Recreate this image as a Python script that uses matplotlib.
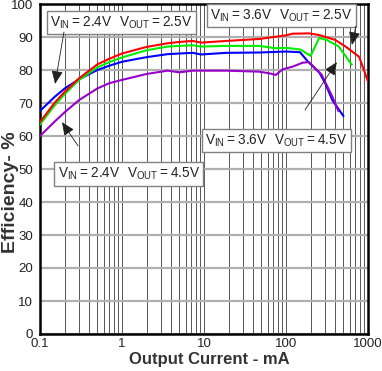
import matplotlib
matplotlib.use("Agg")
import matplotlib.pyplot as plt
from matplotlib.ticker import LogLocator, FixedLocator, FixedFormatter, NullFormatter

plt.rcParams['font.family'] = ['Liberation Sans', 'DejaVu Sans']
plt.rcParams['mathtext.fontset'] = 'custom'
plt.rcParams['mathtext.rm'] = 'Liberation Sans'

# ---- data (output current in mA, efficiency in %) ----
red_i = [0.1, 0.15, 0.2, 0.3, 0.5, 0.7, 1, 2, 3.6, 5, 7.3, 9.2, 18.6, 47, 100, 120, 190, 254, 400, 540, 780, 1000]
red_e = [64.2, 70.0, 73.4, 77.5, 81.7, 83.4, 85.0, 87.0, 88.1, 88.5, 88.8, 88.3, 88.8, 89.4, 90.5, 91.0, 91.1, 90.6, 89.1, 87.0, 84.0, 76.5]

green_i = [0.1, 0.15, 0.2, 0.3, 0.5, 0.7, 1, 2, 3.6, 5, 7.3, 9.2, 18.6, 47, 75, 100, 120, 150, 200, 254, 316, 440, 630]
green_e = [63.5, 69.2, 72.7, 77.0, 80.8, 82.4, 83.8, 86.0, 87.1, 87.3, 87.5, 87.1, 87.3, 87.3, 86.6, 86.7, 86.5, 86.2, 84.3, 89.7, 89.1, 87.1, 81.7]

blue_i = [0.1, 0.15, 0.2, 0.3, 0.5, 0.7, 1, 2, 3.6, 5, 7.3, 9.2, 18.6, 47, 100, 148, 186, 254, 300, 369, 500]
blue_e = [67.6, 71.8, 74.4, 77.2, 80.0, 81.3, 82.5, 83.9, 84.8, 85.0, 85.2, 84.7, 85.2, 85.3, 85.6, 85.4, 82.5, 79.3, 76.0, 70.8, 66.1]

purple_i = [0.1, 0.15, 0.2, 0.3, 0.5, 0.7, 1, 2, 3.6, 5, 7.3, 10, 18.6, 47, 62.5, 75, 91, 120, 159, 190, 273, 369, 435]
purple_e = [60.0, 64.3, 67.2, 70.9, 74.4, 76.0, 77.0, 78.8, 79.8, 79.3, 79.8, 79.8, 79.8, 79.5, 79.0, 78.5, 80.2, 81.0, 82.2, 82.4, 78.5, 71.8, 67.6]

x_ticks = [0.1, 1, 10, 100, 1000]
x_tick_labels = ['0.1', '1', '10', '100', '1000']
y_ticks = list(range(0, 101, 10))

labels = [
    r'$\mathregular{V_{IN}=2.4V\ \ V_{OUT}=2.5V}$',
    r'$\mathregular{V_{IN}=2.4V\ \ V_{OUT}=4.5V}$',
    r'$\mathregular{V_{IN}=3.6V\ \ V_{OUT}=2.5V}$',
    r'$\mathregular{V_{IN}=3.6V\ \ V_{OUT}=4.5V}$',
]

fig = plt.figure(figsize=(3.82, 3.71), dpi=100)
ax = fig.add_axes([40/382, 37/371, 328/382, 330/371])

ax.set_xscale('log')
ax.set_xlim(0.1, 1000)
ax.set_ylim(0, 100)

ax.xaxis.set_major_locator(FixedLocator(x_ticks))
ax.xaxis.set_major_formatter(FixedFormatter(x_tick_labels))
ax.xaxis.set_minor_locator(LogLocator(base=10, subs=range(2, 10)))
ax.xaxis.set_minor_formatter(NullFormatter())
ax.set_yticks(y_ticks)

ax.grid(True, which='both', axis='x', color='#555555', lw=0.7, zorder=0)
ax.grid(True, which='major', axis='y', color='#b0b0b0', lw=1.6, zorder=0)
ax.set_axisbelow(True)

ax.tick_params(which='both', length=0)
ax.tick_params(axis='x', pad=3, labelsize=9.5, labelcolor='#222222')
ax.tick_params(axis='y', pad=5, labelsize=9.5, labelcolor='#222222')

for s in ax.spines.values():
    s.set_linewidth(1.8)
    s.set_color('black')

lw = 1.5
ax.plot(blue_i, blue_e, color='#0000ff', lw=lw, zorder=3)
ax.plot(purple_i, purple_e, color='#9900cc', lw=lw, zorder=3)
ax.plot(green_i, green_e, color='#00ee00', lw=lw, zorder=3)
ax.plot(red_i, red_e, color='#ff0000', lw=lw, zorder=3)

ax.set_xlabel('Output Current - mA', fontsize=12, fontweight='bold', color='#333333')
ax.xaxis.set_label_coords((209.5 - 40) / 328, (334 - 352) / 330)
ax.set_ylabel('Efficiency- %', fontsize=14, fontweight='bold', color='#333333')
ax.yaxis.set_label_coords((19 - 40) / 328, (334 - 192) / 330)

box = dict(boxstyle='square,pad=0.25', fc='white', ec='#808080', lw=1.0)
pos = [(0.248, 0.944), (0.271, 0.485), (0.735, 0.964), (0.721, 0.586)]
for t, (x, y) in zip(labels, pos):
    ax.text(x, y, t, transform=ax.transAxes, ha='center', va='center',
            fontsize=9.8, bbox=box, zorder=5, color='#222222')

arrows = [
    ((0.073, 0.915), (0.046, 0.758)),
    ((0.116, 0.570), (0.067, 0.642)),
    ((0.963, 0.933), (0.951, 0.876)),
    ((0.808, 0.679), (0.905, 0.824)),
]
for tail, tip in arrows:
    ax.annotate('', xy=tip, xytext=tail, xycoords='axes fraction', textcoords='axes fraction',
                arrowprops=dict(arrowstyle='-|>,head_length=0.8,head_width=0.35', color='#202020',
                                lw=0.6, mutation_scale=10, shrinkA=0, shrinkB=0), zorder=6)

fig.savefig('out.png', dpi=100)
